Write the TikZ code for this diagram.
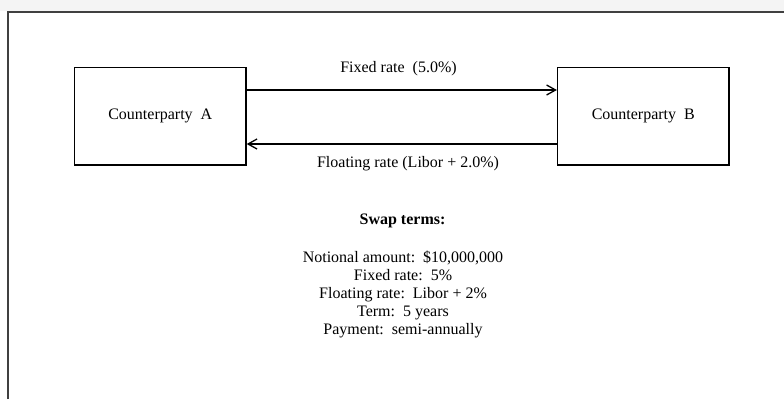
\documentclass[tikz,border=0pt]{standalone}
\usepackage{fontspec}
\setmainfont{Liberation Serif}
\usetikzlibrary{arrows.meta,calc}
\definecolor{framecol}{HTML}{404040}
\definecolor{outsidecol}{HTML}{F4F4F4}
\tikzset{
  box/.style={draw=black, line width=1.3pt, minimum width=171.5pt, minimum height=97.3pt, inner sep=0pt, font=\fontsize{16}{18}\selectfont},
  txt/.style={inner sep=0pt, font=\fontsize{16}{18}\selectfont, align=center},
  arr/.style={draw=black, line width=1.3pt, -{Straight Barb[length=9pt,width=10pt,line width=1.3pt]}}
}
\begin{document}
\begin{tikzpicture}[x=1pt,y=-1pt]
\useasboundingbox (0,0) rectangle (784,399);
\fill[outsidecol] (0,0) rectangle (784,11);
\fill[white] (7.7,11.8) rectangle (784,399);
\draw[framecol, line width=1.7pt] (7.7,399) -- (7.7,11.8) -- (784,11.8);
\node[box] (A) at (160.3,116.3) {Counterparty\ \ A};
\node[box] (B) at (643.3,116.3) {Counterparty\ \ B};
\draw[arr] ($(A.east)+(0,-26.3)$) -- ($(B.west)+(0,-26.3)$);
\draw[arr] ($(B.west)+(0,27.7)$) -- ($(A.east)+(0,27.7)$);
\node[txt] (lblfix) at (398.5,69) {Fixed rate\ \ (5.0\%)};
\node[txt] (lblfloat) at (408,164) {Floating rate (Libor + 2.0\%)};
\node[txt, font=\fontsize{16}{18}\selectfont\bfseries] (swap) at (402.5,221) {Swap terms:};
\node[txt] (terms) at (403,294) {Notional amount:\ \ \$10,000,000\\Fixed rate:\ \ 5\%\\Floating rate:\ \ Libor + 2\%\\Term:\ \ 5 years\\Payment:\ \ semi-annually};
\end{tikzpicture}
\end{document}
